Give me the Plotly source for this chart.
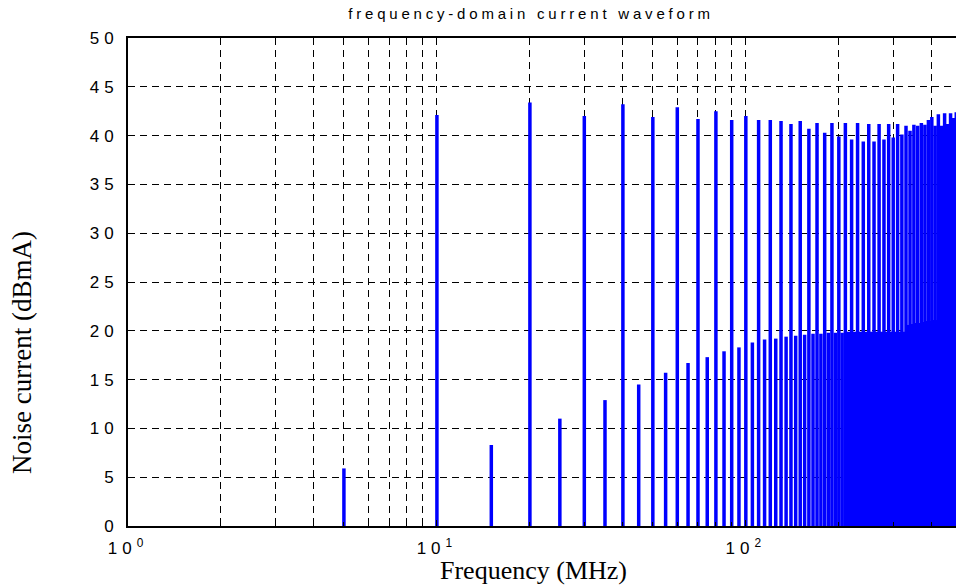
import plotly.graph_objects as go
import math

# Harmonic frequencies (MHz) and amplitudes (dBmA)
even_freqs = [10, 20, 30, 40, 50, 60, 70, 80, 90, 100,
              110, 120, 130, 140, 150, 160, 170, 180, 190, 200,
              210, 220, 230, 240, 250, 260, 270, 280, 290, 300,
              310, 320, 330, 340, 350, 360, 370, 380, 390, 400,
              410, 420, 430, 440, 450, 460, 470, 480]
even_vals = [42.1, 43.4, 42.0, 43.2, 41.9, 42.9, 41.7, 42.5, 41.6, 42.0,
             41.6, 41.6, 41.5, 41.2, 41.5, 40.7, 41.3, 40.3, 41.3, 39.9,
             41.3, 39.6, 41.3, 39.4, 41.2, 39.4, 41.2, 39.6, 41.2, 39.8,
             41.2, 40.1, 41.0, 40.5, 41.1, 41.0, 41.3, 41.1, 41.6, 41.9,
             41.0, 42.2, 41.0, 42.3, 41.2, 42.3, 41.8, 42.4]

odd_freqs = [5, 15, 25, 35, 45, 55, 65, 75, 85, 95,
             105, 115, 125, 135, 145, 155, 165, 175, 185, 195,
             205, 215, 225, 235, 245, 255, 265, 275, 285, 295,
             305, 315, 325, 335, 345, 355, 365, 375, 385, 395,
             405, 415, 425, 435, 445, 455, 465, 475]
odd_vals = [5.9, 8.3, 11.0, 12.9, 14.5, 15.7, 16.7, 17.3, 17.9, 18.3,
            18.8, 19.1, 19.2, 19.4, 19.5, 19.6, 19.7, 19.7, 19.8, 19.8,
            19.8, 19.9, 19.9, 19.9, 19.9, 19.9, 19.9, 19.9, 19.9, 19.9,
            19.9, 19.9, 19.9, 20.6, 20.7, 20.8, 20.8, 20.9, 21.0, 21.0,
            21.1, 21.1, 21.2, 21.2, 21.3, 21.3, 21.4, 21.4]

y_ticks = [0, 5, 10, 15, 20, 25, 30, 35, 40, 45, 50]
x_major = [1, 10, 100]
x_major_text = ["10<sup>0</sup>", "10<sup>1</sup>", "10<sup>2</sup>"]
x_minor = [2, 3, 4, 5, 6, 7, 8, 9, 20, 30, 40, 50, 60, 70, 80, 90, 200, 300, 400]

freqs = sorted(zip(odd_freqs + even_freqs, odd_vals + even_vals))
xs, ys = [], []
for f, v in freqs:
    xs += [f, f, None]
    ys += [0, v, None]

fig = go.Figure()
fig.add_trace(go.Scatter(x=xs, y=ys, mode="lines",
                         line=dict(color="#0000ff", width=3.5),
                         hoverinfo="skip", showlegend=False))

W, H = 956, 586
L, R, T, B = 128, 0, 38, 60
pw = W - L - R
ph = H - T - B
serif = "Liberation Serif, Times New Roman, serif"
sans = "Liberation Sans, Arial, sans-serif"

fig.update_layout(
    width=W, height=H,
    margin=dict(l=L, r=R, t=T, b=B, pad=0),
    paper_bgcolor="white", plot_bgcolor="white",
    font=dict(family=sans, size=16, color="#000"),
    title=dict(text="frequency-domain current waveform",
               x=(531 - L) / pw, xref="paper", xanchor="center",
               y=1 - 14 / H, yref="container", yanchor="middle",
               font=dict(family=sans, size=15, color="#000")),
    xaxis=dict(type="log", range=[0, math.log10(479)],
               tickmode="array", tickvals=x_major, ticktext=x_major_text,
               ticks="inside", ticklen=6, tickcolor="#000", tickwidth=1,
               showline=True, linecolor="#000", linewidth=2, mirror=True,
               showgrid=True, gridcolor="#000", gridwidth=1, griddash="7px,5px",
               minor=dict(tickmode="array", tickvals=x_minor, ticks="inside", ticklen=4,
                          tickcolor="#000", showgrid=True, gridcolor="#000",
                          gridwidth=1, griddash="7px,5px"),
               zeroline=False, tickfont=dict(size=17), ticklabelstandoff=6),
    yaxis=dict(range=[0, 50], tickmode="array", tickvals=y_ticks,
               ticks="inside", ticklen=6, tickcolor="#000",
               showline=True, linecolor="#000", linewidth=2, mirror=False,
               showgrid=True, gridcolor="#000", gridwidth=1, griddash="7px,5px",
               zeroline=False, tickfont=dict(size=17), ticklabelstandoff=4),
    annotations=[
        dict(text="Frequency (MHz)", xref="paper", yref="paper",
             x=(533 - L) / pw, y=-(570 - (H - B)) / ph,
             xanchor="center", yanchor="middle", showarrow=False,
             font=dict(family=serif, size=26)),
        dict(text="Noise current (dBmA)", textangle=-90, showarrow=False,
             xref="paper", yref="paper",
             x=(22 - L) / pw, y=((H - B) - 352) / ph,
             xanchor="center", yanchor="middle",
             font=dict(family=serif, size=27)),
    ],
)

post = """
var gd = document.getElementById('{plot_id}');
function sp(){
  gd.querySelectorAll('.ytick text, .xtick text').forEach(function(e){e.style.letterSpacing='5px';});
  gd.querySelectorAll('.gtitle').forEach(function(e){e.style.letterSpacing='3.8px';});
}
sp();
if (gd.on) { gd.on('plotly_afterplot', sp); }
setTimeout(sp, 50);
"""

fig.write_html("out.html", post_script=post)
